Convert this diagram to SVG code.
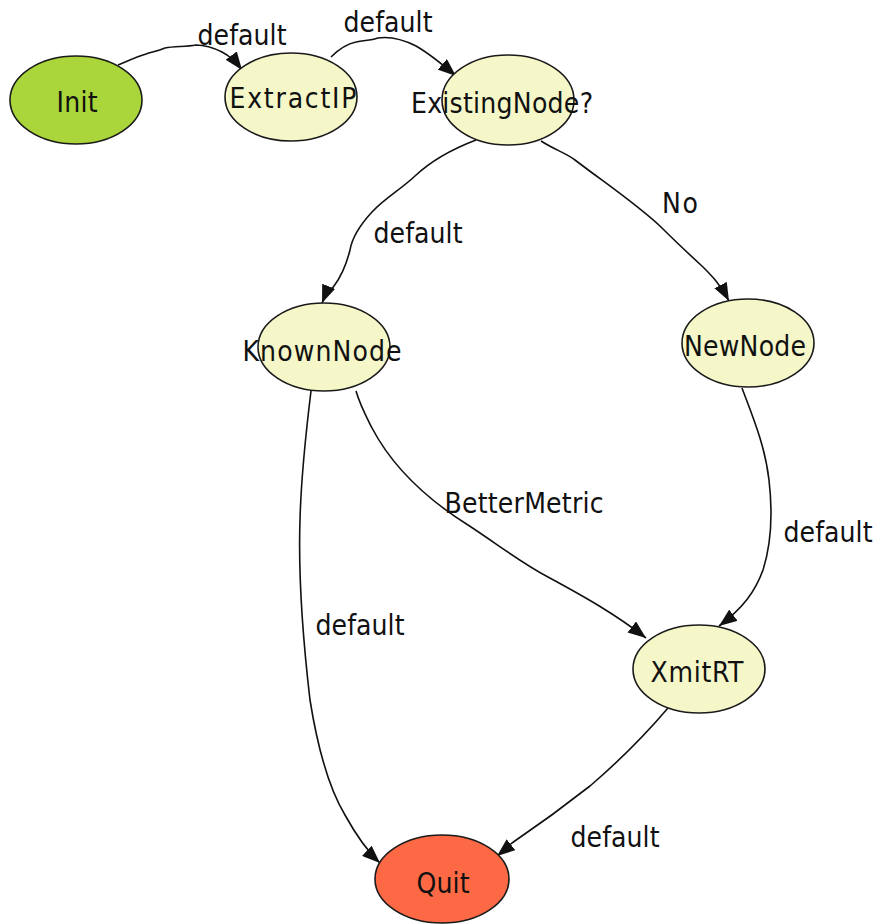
<svg xmlns="http://www.w3.org/2000/svg" width="878" height="924" viewBox="0 0 878 924">
  <style>
    text { font-family: "DejaVu Sans Condensed", "DejaVu Sans", sans-serif; font-stretch: condensed; font-size: 28px; fill: #111; text-anchor: middle; }
    .node ellipse { stroke: #1a1a1a; stroke-width: 1.6; }
    .state { fill: #f5f7c9; }
    .start { fill: #aad53b; }
    .final { fill: #fd6945; }
    .edge { fill: none; stroke: #111; stroke-width: 1.6; marker-end: url(#arrow); }
  </style>
  <defs>
    <marker id="arrow" viewBox="0 0 18 14" refX="18" refY="7" markerWidth="18" markerHeight="14" markerUnits="userSpaceOnUse" orient="auto">
      <path d="M0,0 L18,7 L0,14 Z" fill="#111"/>
    </marker>
  </defs>

  <!-- connectors -->
  <g id="edges">
    <path class="edge" d="M118,65 C128,61 136,57 146,54 C152,52 158,51 165,48 C175,46 185,47 196,45 C206,45 214,48 222,52 C230,56 236,62 242,70"/>
    <path class="edge" d="M331,57 C338,50 346,44 356,42 C364,40 370,41 378,38 C392,36 404,40 416,46 C430,54 442,64 456,76"/>
    <path class="edge" d="M476,140 C455,148 432,160 415,176 C400,190 385,198 372,212 C360,225 352,238 350,250 C347,262 343,274 334,286 C328,294 324,298 322,303"/>
    <path class="edge" d="M541,141 C555,150 566,153 575,160 C605,183 638,205 662,228 C676,242 690,255 703,267 C712,276 720,284 729,301"/>
    <path class="edge" d="M311,391 C305,440 301,480 300,520 C298,580 303,640 310,700 C318,750 330,790 345,815 C356,835 366,850 380,863"/>
    <path class="edge" d="M356,391 C360,405 366,416 372,428 C392,466 425,498 468,525 C500,546 520,562 548,577 C585,597 615,614 646,638"/>
    <path class="edge" d="M742,388 C752,415 765,445 769,480 C773,515 771,545 763,570 C755,592 743,608 719,626"/>
    <path class="edge" d="M668,708 C645,735 618,762 590,786 C562,808 540,824 512,843 C506,848 502,852 497,856"/>
  </g>

  <!-- edge labels -->
  <g id="edge-labels">
    <text x="242" y="45" textLength="89">default</text>
    <text x="388" y="32" textLength="89">default</text>
    <text x="418" y="243" textLength="89">default</text>
    <text x="680" y="213" textLength="36">No</text>
    <text x="360" y="635" textLength="89">default</text>
    <text x="524" y="513" textLength="159">BetterMetric</text>
    <text x="828" y="542" textLength="89">default</text>
    <text x="615" y="847" textLength="89">default</text>
  </g>

  <g id="Init" class="node">
    <ellipse class="start" cx="76" cy="100" rx="66" ry="44"/>
    <text x="77" y="112" textLength="41">Init</text>
  </g>
  <g id="ExtractIP" class="node">
    <ellipse class="state" cx="291" cy="97" rx="66" ry="44"/>
    <text x="293" y="108" textLength="127">ExtractIP</text>
  </g>
  <g id="ExistingNode" class="node">
    <ellipse class="state" cx="508" cy="100" rx="66" ry="45"/>
    <text x="502" y="113" textLength="182">ExistingNode?</text>
  </g>
  <g id="KnownNode" class="node">
    <ellipse class="state" cx="324" cy="347" rx="66" ry="44"/>
    <text x="322" y="361" textLength="159">KnownNode</text>
  </g>
  <g id="NewNode" class="node">
    <ellipse class="state" cx="748" cy="343" rx="66" ry="44"/>
    <text x="745" y="356" textLength="122">NewNode</text>
  </g>
  <g id="XmitRT" class="node">
    <ellipse class="state" cx="699" cy="669" rx="66" ry="44"/>
    <text x="697" y="682" textLength="93">XmitRT</text>
  </g>
  <g id="Quit" class="node">
    <ellipse class="final" cx="442" cy="879" rx="67" ry="44"/>
    <text x="443" y="893" textLength="53">Quit</text>
  </g>
</svg>
